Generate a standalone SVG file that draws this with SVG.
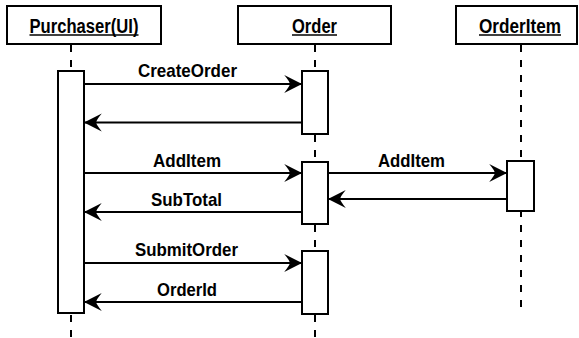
<svg xmlns="http://www.w3.org/2000/svg" width="579" height="338" viewBox="0 0 579 338">
<style>
.box{fill:#fff;stroke:#000;stroke-width:2}
.life{stroke:#000;stroke-width:2;stroke-dasharray:7 8;fill:none}
.msg{stroke:#000;stroke-width:2;fill:none;marker-end:url(#ah)}
.t{font-family:"Liberation Sans",Arial,sans-serif;font-weight:bold;font-size:19px;fill:#000}
.h{font-family:"Liberation Sans",Arial,sans-serif;font-weight:bold;font-size:20px;fill:#000}
.ul{stroke:#000;stroke-width:1.5}
</style>
<defs>
<marker id="ah" markerUnits="userSpaceOnUse" markerWidth="20" markerHeight="20" viewBox="-17 -9 18 18" refX="0" refY="0" orient="auto">
<path d="M0,0 L-16,-8 Q-11,-2 -11,0 Q-11,2 -16,8 Z" fill="#000"/>
</marker>
</defs>
<rect width="579" height="338" fill="#fff"/>
<g id="lifelines">
<line class="life" x1="71" y1="45" x2="71" y2="338"/>
<line class="life" x1="315" y1="45" x2="315" y2="338"/>
<line class="life" x1="521" y1="45" x2="521" y2="310"/>
</g>
<g id="purchaser">
<rect class="box" x="7" y="6" width="154" height="38"/>
<text class="h" x="84" y="32.5" text-anchor="middle" textLength="109" lengthAdjust="spacingAndGlyphs">Purchaser(UI)</text>
<line class="ul" x1="29.5" y1="35" x2="138.5" y2="35"/>
<rect class="box" x="58" y="71" width="26" height="242"/>
</g>
<g id="order">
<rect class="box" x="238" y="6" width="153" height="38"/>
<text class="h" x="314.5" y="32.5" text-anchor="middle" textLength="45" lengthAdjust="spacingAndGlyphs">Order</text>
<line class="ul" x1="292" y1="35" x2="337" y2="35"/>
<rect class="box" x="302" y="71" width="26" height="63"/>
<rect class="box" x="302" y="162" width="26" height="62"/>
<rect class="box" x="302" y="251" width="26" height="63"/>
</g>
<g id="orderitem">
<rect class="box" x="456" y="6" width="121" height="38"/>
<text class="h" x="520" y="32.5" text-anchor="middle" textLength="82" lengthAdjust="spacingAndGlyphs">OrderItem</text>
<line class="ul" x1="479" y1="35" x2="561" y2="35"/>
<rect class="box" x="507" y="161" width="27" height="50"/>
</g>
<g id="connectors">
<line class="msg" x1="84" y1="84" x2="302" y2="84"/>
<text class="t" x="187.5" y="76.5" text-anchor="middle" textLength="99" lengthAdjust="spacingAndGlyphs">CreateOrder</text>
<line class="msg" x1="302" y1="122.5" x2="84" y2="122.5"/>
<line class="msg" x1="84" y1="173" x2="302" y2="173"/>
<text class="t" x="187" y="167" text-anchor="middle" textLength="68" lengthAdjust="spacingAndGlyphs">AddItem</text>
<line class="msg" x1="302" y1="212" x2="84" y2="212"/>
<text class="t" x="186.5" y="206" text-anchor="middle" textLength="71" lengthAdjust="spacingAndGlyphs">SubTotal</text>
<line class="msg" x1="84" y1="263" x2="302" y2="263"/>
<text class="t" x="186.5" y="256" text-anchor="middle" textLength="103" lengthAdjust="spacingAndGlyphs">SubmitOrder</text>
<line class="msg" x1="302" y1="302" x2="84" y2="302"/>
<text class="t" x="187" y="296" text-anchor="middle" textLength="60" lengthAdjust="spacingAndGlyphs">OrderId</text>
<line class="msg" x1="328" y1="173" x2="507" y2="173"/>
<text class="t" x="411.5" y="167" text-anchor="middle" textLength="67" lengthAdjust="spacingAndGlyphs">AddItem</text>
<line class="msg" x1="507" y1="199" x2="328" y2="199"/>
</g>
</svg>
